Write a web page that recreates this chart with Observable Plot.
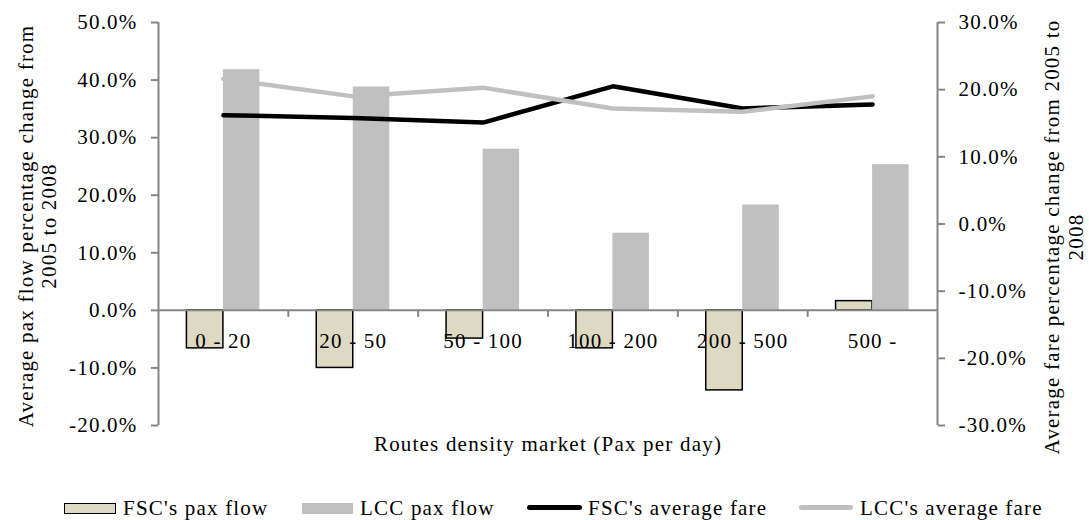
<!DOCTYPE html>
<html>
<head>
<meta charset="utf-8">
<script src="https://cdn.jsdelivr.net/npm/d3@7"></script>
<script src="https://cdn.jsdelivr.net/npm/@observablehq/plot@0.6"></script>
<style>
  body { margin: 0; background: #fff; font-family: "Liberation Serif", "Times New Roman", serif; }
  #legend { position: relative; width: 1089px; height: 50px; font-size: 21px; letter-spacing: 1.2px; color: #000; }
  #legend .sw { position: absolute; box-sizing: border-box; }
  #legend .lbl { position: absolute; line-height: 21px; white-space: nowrap; }
</style>
</head>
<body>
<div id="chart"></div>
<div id="legend"></div>
<script>
// ---- data ----
const categories = ["0 - 20", "20 - 50", "50 - 100", "100 - 200", "200 - 500", "500 -"];
const fscPaxFlow = [-0.066, -0.100, -0.049, -0.066, -0.139, 0.016];
const lccPaxFlow = [0.418, 0.388, 0.280, 0.134, 0.183, 0.253];
const fscAvgFare = [0.162, 0.158, 0.151, 0.205, 0.172, 0.178];
const lccAvgFare = [0.216, 0.190, 0.203, 0.172, 0.167, 0.190];
const leftTicks = [-0.2, -0.1, 0, 0.1, 0.2, 0.3, 0.4, 0.5];
const rightTicks = [-0.3, -0.2, -0.1, 0, 0.1, 0.2, 0.3];
const seriesNames = ["FSC's pax flow", "LCC pax flow", "FSC's average fare", "LCC's average fare"];
const leftTitle = "Average pax flow percentage change from\n2005 to 2008";
const rightTitle = "Average fare percentage change from 2005 to\n2008";
const xTitle = "Routes density market (Pax per day)";

// ---- layout / style ----
const W = 1089, H = 470, mL = 158, mR = 152, mT = 22, mB = 45;
const step = (W - mL - mR) / categories.length;
const bw = 36.5;
const axisGray = "#868686";
const fscFill = "#DDD9C3";
const lccGray = "#C0C0C0";

const leftDomain = [leftTicks[0], leftTicks[leftTicks.length - 1]];
const rightDomain = [rightTicks[0], rightTicks[rightTicks.length - 1]];
const k = (leftDomain[1] - leftDomain[0]) / (rightDomain[1] - rightDomain[0]);
const toLeft = v => leftDomain[0] + (v - rightDomain[0]) * k;
const fromLeft = v => rightDomain[0] + (v - leftDomain[0]) / k;
const pct = v => {
  let s = (Math.round(v * 1000) / 10).toFixed(1);
  if (s === "-0.0") s = "0.0";
  return s + "%";
};

const rows = categories.map((c, i) => ({
  cat: c, fscPax: fscPaxFlow[i], lccPax: lccPaxFlow[i], fscFare: fscAvgFare[i], lccFare: lccAvgFare[i]
}));

const chart = Plot.plot({
  width: W, height: H,
  marginLeft: mL, marginRight: mR, marginTop: mT, marginBottom: mB,
  style: { fontFamily: "'Liberation Serif', 'Times New Roman', serif", fontSize: "21px", letterSpacing: "1.2px", background: "#fff", color: "#000", overflow: "visible" },
  x: { type: "band", domain: categories, padding: 0, round: false, axis: null },
  y: { domain: leftDomain, axis: null },
  marks: [
    Plot.barY(rows, { x: "cat", y: "fscPax", fill: fscFill, stroke: "#000", strokeWidth: 1.5, insetLeft: step / 2 - bw, insetRight: step / 2 }),
    Plot.barY(rows, { x: "cat", y: "lccPax", fill: lccGray, insetLeft: step / 2, insetRight: step / 2 - bw }),
    Plot.ruleY([0], { stroke: axisGray, strokeWidth: 2 }),
    Plot.ruleX(categories.slice(1), { x: d => d, y1: () => 0, y2: () => 0, dx: -step / 2, insetBottom: -7, stroke: axisGray, strokeWidth: 2 }),
    Plot.ruleX([categories[0]], { x: d => d, y1: () => leftDomain[0], y2: () => leftDomain[1], dx: -step / 2, stroke: axisGray, strokeWidth: 2 }),
    Plot.ruleX([categories[categories.length - 1]], { x: d => d, y1: () => leftDomain[0], y2: () => leftDomain[1], dx: step / 2, stroke: axisGray, strokeWidth: 2 }),
    Plot.axisY({ anchor: "left", ticks: leftTicks, tickFormat: pct, tickSize: 7, tickPadding: 14, stroke: axisGray, strokeWidth: 2, fill: "#000", fontSize: 21 }),
    Plot.axisY({ anchor: "right", ticks: rightTicks.map(toLeft), tickFormat: v => pct(fromLeft(v)), tickSize: 7, tickPadding: 14, stroke: axisGray, strokeWidth: 2, fill: "#000", fontSize: 21 }),
    Plot.text(rows, { x: "cat", y: () => 0, text: "cat", dy: 31, fill: "#000", fontSize: 21 }),
    Plot.line(rows, { x: "cat", y: d => toLeft(d.fscFare), stroke: "#000", strokeWidth: 4.5, strokeLinecap: "round", strokeLinejoin: "round" }),
    Plot.line(rows, { x: "cat", y: d => toLeft(d.lccFare), stroke: lccGray, strokeWidth: 4.5, strokeLinecap: "round", strokeLinejoin: "round" }),
    Plot.text([leftTitle], { text: d => d, frameAnchor: "left", textAnchor: "middle", lineAnchor: "middle", rotate: -90, dx: -121, dy: 2, lineHeight: 1.1, fill: "#000", fontSize: 21 }),
    Plot.text([rightTitle], { text: d => d, frameAnchor: "right", textAnchor: "middle", lineAnchor: "middle", rotate: -90, dx: 126, dy: 13, lineHeight: 1.15, fill: "#000", fontSize: 21, letterSpacing: "1px" }),
    Plot.text([xTitle], { text: d => d, frameAnchor: "bottom", textAnchor: "middle", lineAnchor: "middle", dy: 19, fill: "#000", fontSize: 21 })
  ]
});
document.getElementById("chart").appendChild(chart);

// ---- legend (HTML, below the SVG) ----
const legend = document.getElementById("legend");
const items = [
  { name: seriesNames[0], kind: "rect", fill: fscFill, border: "1.5px solid #000", x: 64, w: 52, tx: 123 },
  { name: seriesNames[1], kind: "rect", fill: lccGray, border: "none", x: 302, w: 51, tx: 360 },
  { name: seriesNames[2], kind: "line", fill: "#000", x: 527, w: 55, tx: 588 },
  { name: seriesNames[3], kind: "line", fill: lccGray, x: 799, w: 54, tx: 860 }
];
for (const it of items) {
  const sw = document.createElement("div");
  sw.className = "sw";
  sw.style.left = it.x + "px";
  sw.style.width = it.w + "px";
  if (it.kind === "rect") {
    sw.style.top = "33px";
    sw.style.height = "11px";
    sw.style.background = it.fill;
    sw.style.border = it.border;
  } else {
    sw.style.top = "35px";
    sw.style.height = "4.5px";
    sw.style.borderRadius = "3px";
    sw.style.background = it.fill;
  }
  legend.appendChild(sw);
  const lb = document.createElement("div");
  lb.className = "lbl";
  lb.style.left = it.tx + "px";
  lb.style.top = "28px";
  lb.textContent = it.name;
  legend.appendChild(lb);
}
</script>
</body>
</html>
